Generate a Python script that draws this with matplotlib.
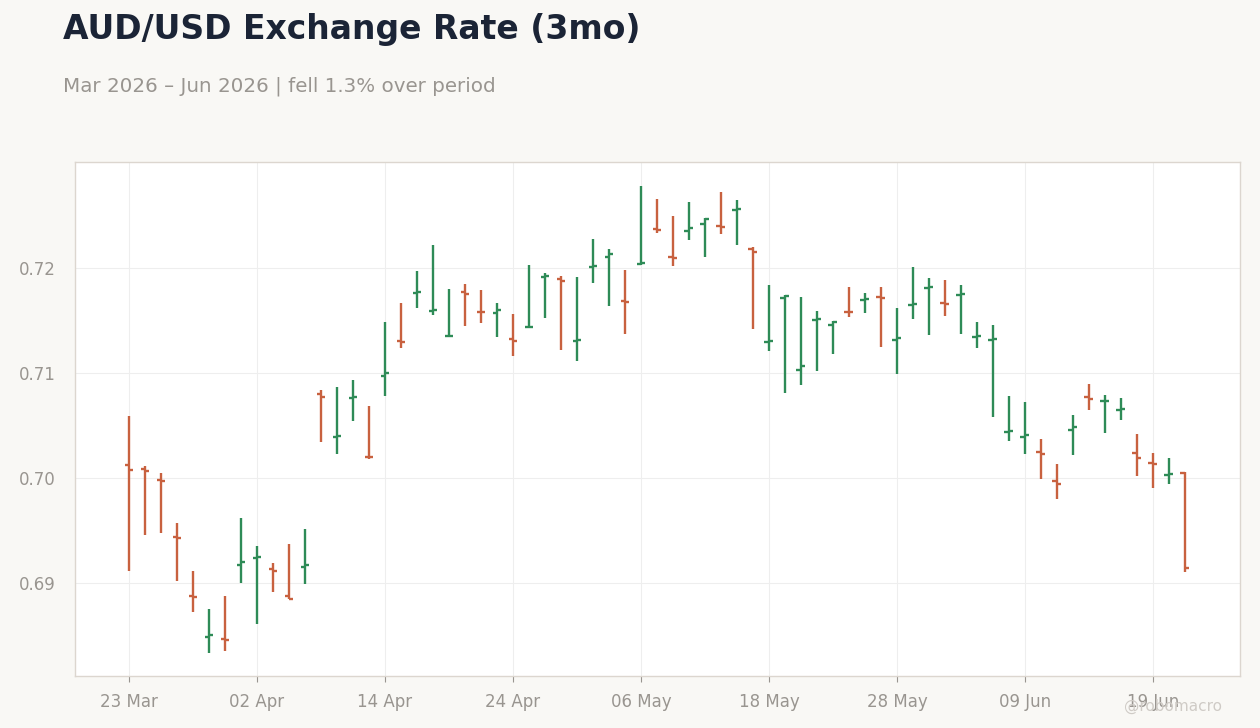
import matplotlib
matplotlib.use("Agg")
import matplotlib.pyplot as plt
import numpy as np
import pandas as pd

# business days shown on the x axis (index-based, no weekend gaps)
dates = pd.bdate_range("2026-03-23", periods=67)

opens = [0.70124, 0.70089, 0.69985, 0.69442, 0.68877, 0.68490, 0.68465, 0.69175,
         0.69242, 0.69137, 0.68880, 0.69156, 0.70798, 0.70394, 0.70765, 0.70204,
         0.70975, 0.71308, 0.71765, 0.71593, 0.71352, 0.71769, 0.71584, 0.71574,
         0.71327, 0.71438, 0.71917, 0.71898, 0.71308, 0.72012, 0.72108, 0.71689,
         0.72035, 0.72368, 0.72102, 0.72355, 0.72422, 0.72403, 0.72555, 0.72184,
         0.71295, 0.71717, 0.71029, 0.71508, 0.71457, 0.71584, 0.71698, 0.71727,
         0.71317, 0.71651, 0.71812, 0.71664, 0.71746, 0.71343, 0.71317, 0.70439,
         0.70391, 0.70251, 0.69975, 0.70461, 0.70775, 0.70734, 0.70651, 0.70241,
         0.70146, 0.70032, 0.70051]
highs = [0.70590, 0.70112, 0.70048, 0.69572, 0.69115, 0.68754, 0.68877, 0.69620,
         0.69353, 0.69192, 0.69372, 0.69515, 0.70839, 0.70867, 0.70934, 0.70686,
         0.71486, 0.71667, 0.71971, 0.72219, 0.71800, 0.71848, 0.71790, 0.71667,
         0.71562, 0.72029, 0.71952, 0.71924, 0.71914, 0.72276, 0.72181, 0.71981,
         0.72781, 0.72657, 0.72495, 0.72628, 0.72479, 0.72724, 0.72647, 0.72197,
         0.71838, 0.71743, 0.71724, 0.71591, 0.71495, 0.71819, 0.71762, 0.71819,
         0.71619, 0.72012, 0.71905, 0.71886, 0.71838, 0.71486, 0.71457, 0.70781,
         0.70724, 0.70372, 0.70134, 0.70600, 0.70896, 0.70791, 0.70762, 0.70420,
         0.70239, 0.70191, 0.70055]
lows = [0.69117, 0.69460, 0.69477, 0.69020, 0.68725, 0.68335, 0.68354, 0.69004,
        0.68611, 0.68915, 0.68849, 0.68995, 0.70346, 0.70232, 0.70543, 0.70179,
        0.70784, 0.71241, 0.71622, 0.71555, 0.71350, 0.71451, 0.71479, 0.71343,
        0.71162, 0.71438, 0.71527, 0.71222, 0.71117, 0.71860, 0.71641, 0.71375,
        0.72030, 0.72336, 0.72022, 0.72267, 0.72108, 0.72327, 0.72222, 0.71422,
        0.71213, 0.70813, 0.70889, 0.71022, 0.71184, 0.71536, 0.71574, 0.71251,
        0.70994, 0.71517, 0.71365, 0.71546, 0.71375, 0.71241, 0.70584, 0.70356,
        0.70232, 0.69994, 0.69804, 0.70223, 0.70651, 0.70432, 0.70556, 0.70023,
        0.69908, 0.69947, 0.69103]
closes = [0.70080, 0.70070, 0.69975, 0.69432, 0.68868, 0.68509, 0.68460, 0.69204,
          0.69248, 0.69115, 0.68849, 0.69175, 0.70775, 0.70401, 0.70770, 0.70198,
          0.71000, 0.71295, 0.71770, 0.71603, 0.71355, 0.71755, 0.71578, 0.71597,
          0.71308, 0.71442, 0.71925, 0.71876, 0.71317, 0.72022, 0.72136, 0.71679,
          0.72050, 0.72360, 0.72095, 0.72384, 0.72469, 0.72393, 0.72565, 0.72155,
          0.71308, 0.71736, 0.71070, 0.71512, 0.71489, 0.71578, 0.71708, 0.71717,
          0.71336, 0.71658, 0.71818, 0.71654, 0.71752, 0.71355, 0.71324, 0.70445,
          0.70413, 0.70232, 0.69947, 0.70489, 0.70756, 0.70738, 0.70660, 0.70194,
          0.70134, 0.70036, 0.69147]

title = "AUD/USD Exchange Rate (3mo)"
subtitle = "Mar 2026 \u2013 Jun 2026 | fell 1.3% over period"

up_color = "#2e8b57"
down_color = "#c8613f"
bg = "#f9f8f5"
txt_gray = "#999590"

fig = plt.figure(figsize=(12.6, 7.28), dpi=100, facecolor=bg)
ax = fig.add_axes([75 / 1260, 1 - 676 / 728, (1240 - 75) / 1260, (676 - 162) / 728])
ax.set_facecolor("white")

x = np.arange(len(dates))
colors = [up_color if c >= o else down_color for o, c in zip(opens, closes)]
ax.vlines(x, lows, highs, colors=colors, linewidth=1.7)
ax.hlines(opens, x - 0.28, x, colors=colors, linewidth=1.7)
ax.hlines(closes, x, x + 0.28, colors=colors, linewidth=1.7)

ax.set_xlim(-3.375, 69.44)
ax.set_ylim(0.68114, 0.73010)

ticks = list(range(0, len(dates), 8))
ax.set_xticks(ticks)
ax.set_xticklabels([dates[i].strftime("%d %b") for i in ticks])
ax.set_yticks([0.69, 0.70, 0.71, 0.72])
ax.set_yticklabels(["0.69", "0.70", "0.71", "0.72"])

ax.grid(True, color="#eeeeee", linewidth=0.8)
ax.set_axisbelow(True)
for s in ax.spines.values():
    s.set_color("#dcd6cf")
    s.set_linewidth(1)
ax.tick_params(axis="x", colors="#999590", labelcolor=txt_gray, labelsize=12, length=4, pad=8)
ax.tick_params(axis="y", length=0, labelcolor=txt_gray, labelsize=12, pad=14)

fig.text(63 / 1260, 1 - 30 / 728, title, fontsize=23.8, fontweight="bold",
         color="#1b2436", va="center", ha="left")
fig.text(63 / 1260, 1 - 86 / 728, subtitle, fontsize=14.3, color=txt_gray,
         va="center", ha="left")
fig.text(1222 / 1260, 1 - 706 / 728, "@robomacro", fontsize=11, color="#cfcbc6",
         va="center", ha="right")

fig.savefig("out.png", dpi=100, facecolor=bg)
